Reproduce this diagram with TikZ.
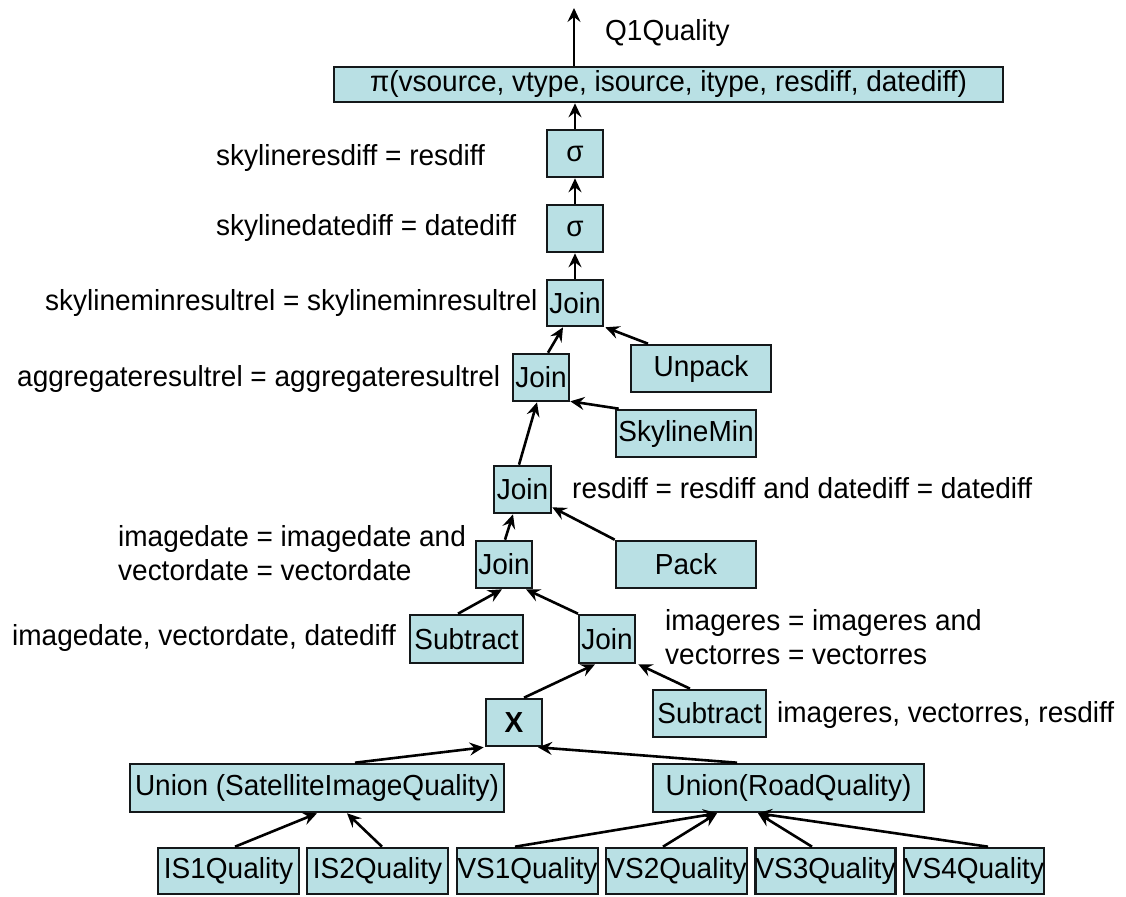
\documentclass[tikz,border=0pt]{standalone}
\usepackage{fontspec}
\setmainfont[FakeStretch=0.965]{Liberation Sans}
\usetikzlibrary{arrows.meta,calc}
\definecolor{boxfill}{RGB}{185,224,228}
\definecolor{boxline}{RGB}{20,24,26}
\newcommand{\opfont}{\fontsize{29}{34}\selectfont}
\tikzset{
  opbox/.style={draw=boxline, fill=boxfill, line width=2.6pt, inner sep=0pt, font=\opfont},
  lbl/.style={inner sep=0pt, anchor=west, font=\opfont, align=left},
  arr/.style={line width=2.6pt, -{Stealth[length=14pt,width=13pt,inset=5pt]}},
}
\begin{document}
\begin{tikzpicture}[x=1pt,y=-1pt]
\useasboundingbox (0,0) rectangle (1126,896);

% operator boxes
\node[opbox, minimum width=669pt, minimum height=35pt] (pi) at (668.5,84.5) {π(vsource, vtype, isource, itype, resdiff, datediff)};
\node[opbox, minimum width=56pt, minimum height=47pt] (s1) at (575,153.5) {σ};
\node[opbox, minimum width=56pt, minimum height=47pt] (s2) at (575,228.5) {σ};
\node[opbox, minimum width=56pt, minimum height=46pt] (j1) at (575,303) {Join};
\node[opbox, minimum width=140pt, minimum height=47pt] (unpack) at (701,368.5) {Unpack};
\node[opbox, minimum width=56pt, minimum height=47pt] (j2) at (541,377.5) {Join};
\node[opbox, minimum width=140pt, minimum height=47pt] (skymin) at (686,433.5) {SkylineMin};
\node[opbox, minimum width=57pt, minimum height=47pt] (j3) at (522.5,489.5) {Join};
\node[opbox, minimum width=56pt, minimum height=47pt] (j4) at (504,564.5) {Join};
\node[opbox, minimum width=140pt, minimum height=47pt] (pack) at (686,564.5) {Pack};
\node[opbox, minimum width=113pt, minimum height=48pt] (sub1) at (466.5,639) {Subtract};
\node[opbox, minimum width=56pt, minimum height=48pt] (j5) at (607,639) {Join};
\node[opbox, minimum width=56pt, minimum height=47pt] (x) at (514,722.5) {\textbf{X}};
\node[opbox, minimum width=113pt, minimum height=47pt] (sub2) at (709.5,713.5) {Subtract};
\node[opbox, minimum width=374pt, minimum height=48pt] (usiq) at (317,788) {Union (SatelliteImageQuality)};
\node[opbox, minimum width=271pt, minimum height=48pt] (urq) at (788.5,788) {Union(RoadQuality)};
\node[opbox, minimum width=141pt, minimum height=46pt] (is1) at (228.5,871) {IS1Quality};
\node[opbox, minimum width=141pt, minimum height=46pt] (is2) at (377.5,871) {IS2Quality};
\node[opbox, minimum width=141pt, minimum height=46pt] (vs1) at (527.5,871) {VS1Quality};
\node[opbox, minimum width=141pt, minimum height=46pt] (vs2) at (676.5,871) {VS2Quality};
\node[opbox, minimum width=139pt, minimum height=46pt] (vs3) at (825.5,871) {VS3Quality};
\node[opbox, minimum width=140pt, minimum height=46pt] (vs4) at (974,871) {VS4Quality};

% predicate and attribute labels
\node[lbl] (lq) at (605,33) {Q1Quality};
\node[lbl] (l1) at (216,158) {skylineresdiff = resdiff};
\node[lbl] (l2) at (216,228) {skylinedatediff = datediff};
\node[lbl] (l3) at (45,303) {skylineminresultrel = skylineminresultrel};
\node[lbl] (l4) at (17,379) {aggregateresultrel = aggregateresultrel};
\node[lbl] (l5) at (572,488) {resdiff = resdiff and datediff = datediff};
\node[lbl] (l6) at (118,553) {imagedate = imagedate and\\vectordate = vectordate};
\node[lbl] (l7) at (12,638) {imagedate, vectordate, datediff};
\node[lbl] (l8) at (665,637) {imageres = imageres and\\vectorres = vectorres};
\node[lbl] (l9) at (777,715) {imageres, vectorres, resdiff};

% data flow
\coordinate (qout) at (574,8);
\draw[arr] (pi.north -| qout) -- (qout);
\draw[arr] (s1.north) -- (s1.north |- pi.south);
\draw[arr] (s2.north) -- (s1.south);
\draw[arr] (j1.north) -- (s2.south);
\draw[arr] ([xshift=7pt]j2.north) -- ([xshift=-12pt]j1.south);
\draw[arr] ([xshift=-53pt]unpack.north) -- ([xshift=1pt]j1.south east);
\draw[arr] ([xshift=-3.5pt]j3.north) -- ([xshift=-4pt]j2.south);
\draw[arr] ([xshift=4pt]skymin.north west) -- ([yshift=1pt]j2.south east);
\draw[arr] ([xshift=1pt]j4.north) -- ([xshift=-9.5pt]j3.south);
\draw[arr] (pack.north west) -- ([yshift=7pt]j3.south east);
\draw[arr] ([xshift=-8.5pt]sub1.north) -- ([xshift=-2pt]j4.south);
\draw[arr] ([xshift=-29pt]j5.north) -- ([xshift=22pt]j4.south);
\draw[arr] ([xshift=10pt]x.north) -- ([xshift=-12pt]j5.south);
\draw[arr] ([xshift=-19.5pt]sub2.north) -- ([xshift=2pt]j5.south east);
\draw[arr] ([xshift=38pt]usiq.north) -- ([xshift=-1pt]x.south west);
\draw[arr] ([xshift=-51.5pt]urq.north) -- ([xshift=24pt]x.south);
\draw[arr] ([xshift=6.5pt]is1.north) -- (usiq.south);
\draw[arr] ([xshift=4.5pt]is2.north) -- ([xshift=30pt]usiq.south);
\draw[arr] ([xshift=-12.5pt]vs1.north) -- ([xshift=-71.5pt]urq.south);
\draw[arr] ([xshift=-13.5pt]vs2.north) -- ([xshift=-71.5pt]urq.south);
\draw[arr] ([xshift=-13.5pt]vs3.north) -- ([xshift=-30.5pt]urq.south);
\draw[arr] ([xshift=14pt]vs4.north) -- ([xshift=-30.5pt]urq.south);
\end{tikzpicture}
\end{document}
